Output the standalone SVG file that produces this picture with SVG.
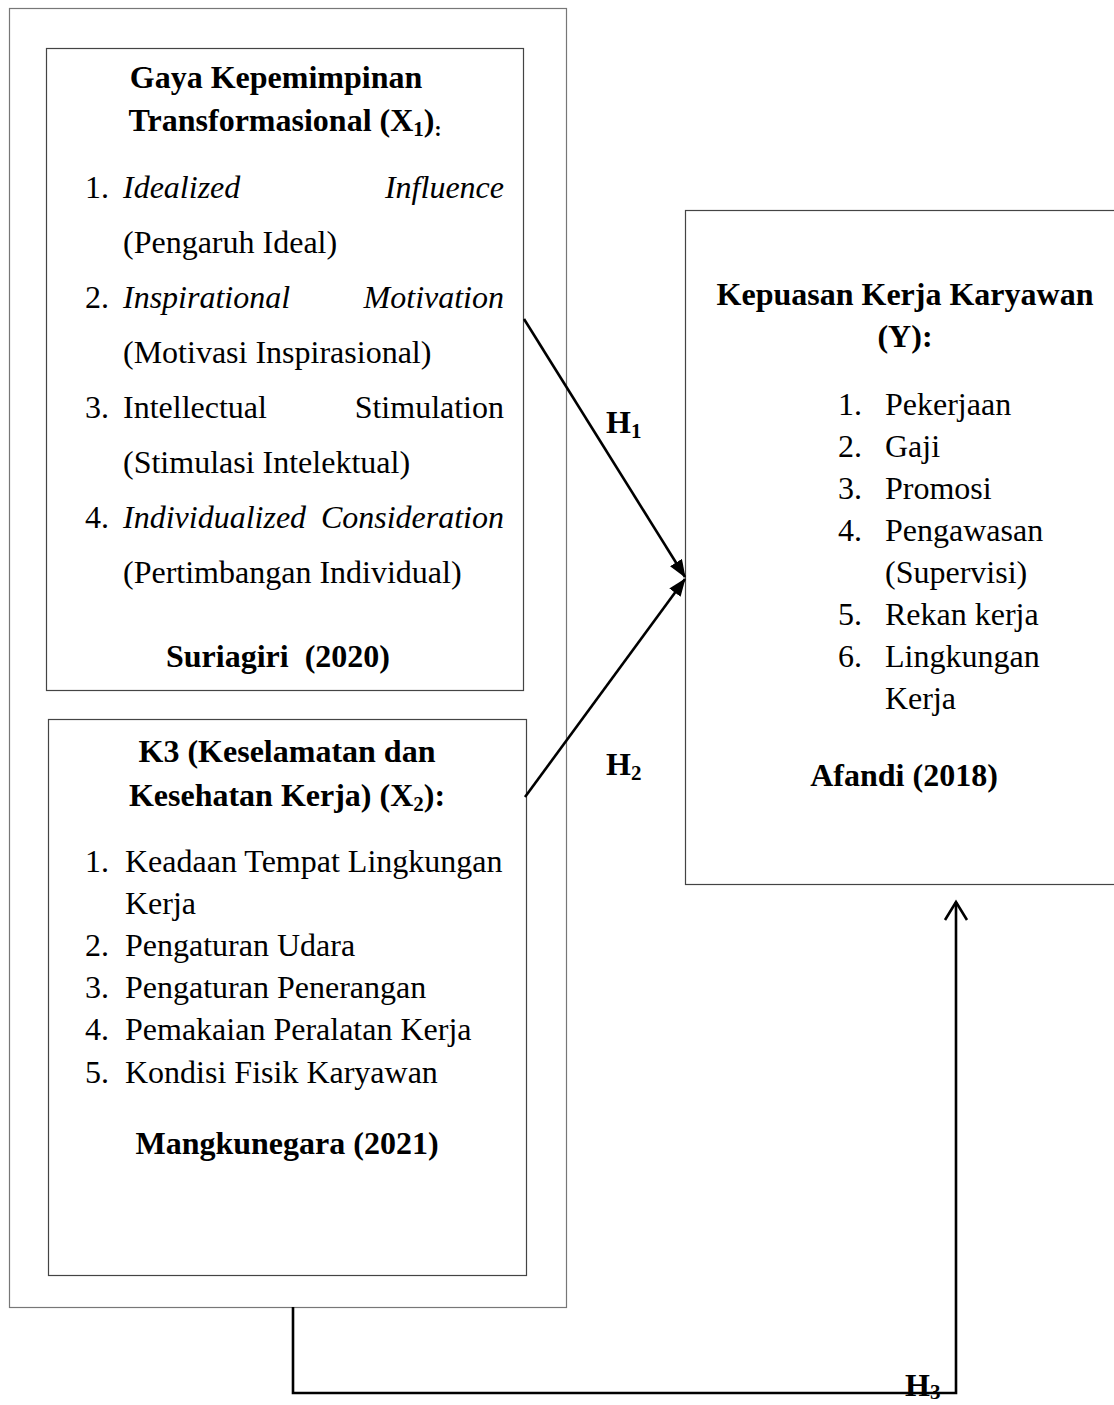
<svg xmlns="http://www.w3.org/2000/svg" width="1114" height="1405" viewBox="0 0 1114 1405">
<style>
  .t{font-family:"Liberation Serif","Times New Roman",serif;font-size:32px;fill:#000}
  .b{font-weight:bold}
  .i{font-style:italic}
  .c{text-anchor:middle}
  .e{text-anchor:end}
  .box{fill:none;stroke:#444;stroke-width:1.2}
  .outer{fill:none;stroke:#777;stroke-width:1.2}
  .con{fill:none;stroke:#000;stroke-width:2.6}
</style>
<defs>
  <marker id="ah" markerWidth="18" markerHeight="14" refX="17" refY="7" orient="auto" markerUnits="userSpaceOnUse">
    <path d="M0,0 L18,7 L0,14 Z" fill="#000"/>
  </marker>
</defs>
<rect width="1114" height="1405" fill="#fff"/>

<g id="outer-frame">
  <rect class="outer" x="9.5" y="8.5" width="557" height="1299"/>
</g>

<g id="node-x1">
  <rect class="box" x="46.5" y="48.5" width="477" height="642"/>
  <text class="t b c" x="276" y="88">Gaya Kepemimpinan</text>
  <text class="t b c" x="285" y="131">Transformasional (X<tspan font-size="21" dy="5">1</tspan><tspan dy="-5">)</tspan><tspan font-size="21" dy="5">:</tspan></text>
  <text class="t" x="85" y="198">1.</text>
  <text class="t i" x="123" y="198">Idealized</text>
  <text class="t i e" x="504" y="198">Influence</text>
  <text class="t" x="123" y="253">(Pengaruh Ideal)</text>
  <text class="t" x="85" y="308">2.</text>
  <text class="t i" x="123" y="308">Inspirational</text>
  <text class="t i e" x="504" y="308">Motivation</text>
  <text class="t" x="123" y="363">(Motivasi Inspirasional)</text>
  <text class="t" x="85" y="418">3.</text>
  <text class="t" x="123" y="418">Intellectual</text>
  <text class="t e" x="504" y="418">Stimulation</text>
  <text class="t" x="123" y="473">(Stimulasi Intelektual)</text>
  <text class="t" x="85" y="528">4.</text>
  <text class="t i" x="123" y="528">Individualized</text>
  <text class="t i e" x="504" y="528">Consideration</text>
  <text class="t" x="123" y="583">(Pertimbangan Individual)</text>
  <text class="t b c" x="278" y="667" xml:space="preserve">Suriagiri  (2020)</text>
</g>

<g id="node-x2">
  <rect class="box" x="48.5" y="719.5" width="478" height="556"/>
  <text class="t b c" x="287" y="762">K3 (Keselamatan dan</text>
  <text class="t b c" x="287" y="806">Kesehatan Kerja) (X<tspan font-size="21" dy="5">2</tspan><tspan dy="-5">):</tspan></text>
  <text class="t" x="85" y="872">1.</text>
  <text class="t" x="125" y="872">Keadaan Tempat Lingkungan</text>
  <text class="t" x="125" y="914">Kerja</text>
  <text class="t" x="85" y="956">2.</text>
  <text class="t" x="125" y="956">Pengaturan Udara</text>
  <text class="t" x="85" y="998">3.</text>
  <text class="t" x="125" y="998">Pengaturan Penerangan</text>
  <text class="t" x="85" y="1040">4.</text>
  <text class="t" x="125" y="1040">Pemakaian Peralatan Kerja</text>
  <text class="t" x="85" y="1083">5.</text>
  <text class="t" x="125" y="1083">Kondisi Fisik Karyawan</text>
  <text class="t b c" x="287" y="1154">Mangkunegara (2021)</text>
</g>

<g id="node-y">
  <rect class="box" x="685.5" y="210.5" width="440" height="674"/>
  <text class="t b c" x="905" y="305">Kepuasan Kerja Karyawan</text>
  <text class="t b c" x="905" y="347">(Y):</text>
  <text class="t" x="838" y="415">1.</text>
  <text class="t" x="885" y="415">Pekerjaan</text>
  <text class="t" x="838" y="457">2.</text>
  <text class="t" x="885" y="457">Gaji</text>
  <text class="t" x="838" y="499">3.</text>
  <text class="t" x="885" y="499">Promosi</text>
  <text class="t" x="838" y="541">4.</text>
  <text class="t" x="885" y="541">Pengawasan</text>
  <text class="t" x="885" y="583">(Supervisi)</text>
  <text class="t" x="838" y="625">5.</text>
  <text class="t" x="885" y="625">Rekan kerja</text>
  <text class="t" x="838" y="667">6.</text>
  <text class="t" x="885" y="667">Lingkungan</text>
  <text class="t" x="885" y="709">Kerja</text>
  <text class="t b c" x="904" y="786">Afandi (2018)</text>
</g>

<g id="connectors">
  <line class="con" x1="524" y1="319" x2="685" y2="577" marker-end="url(#ah)"/>
  <line class="con" x1="525" y1="797" x2="685" y2="579" marker-end="url(#ah)"/>
  <polyline class="con" points="293,1307 293,1393 956,1393 956,902"/>
  <polyline class="con" points="945,920 956,902 967,920"/>
  <text class="t b" x="606" y="433">H<tspan font-size="21" dy="5">1</tspan></text>
  <text class="t b" x="606" y="775">H<tspan font-size="21" dy="5">2</tspan></text>
  <text class="t b" x="905" y="1396">H<tspan font-size="21" dy="3">3</tspan></text>
</g>
</svg>
